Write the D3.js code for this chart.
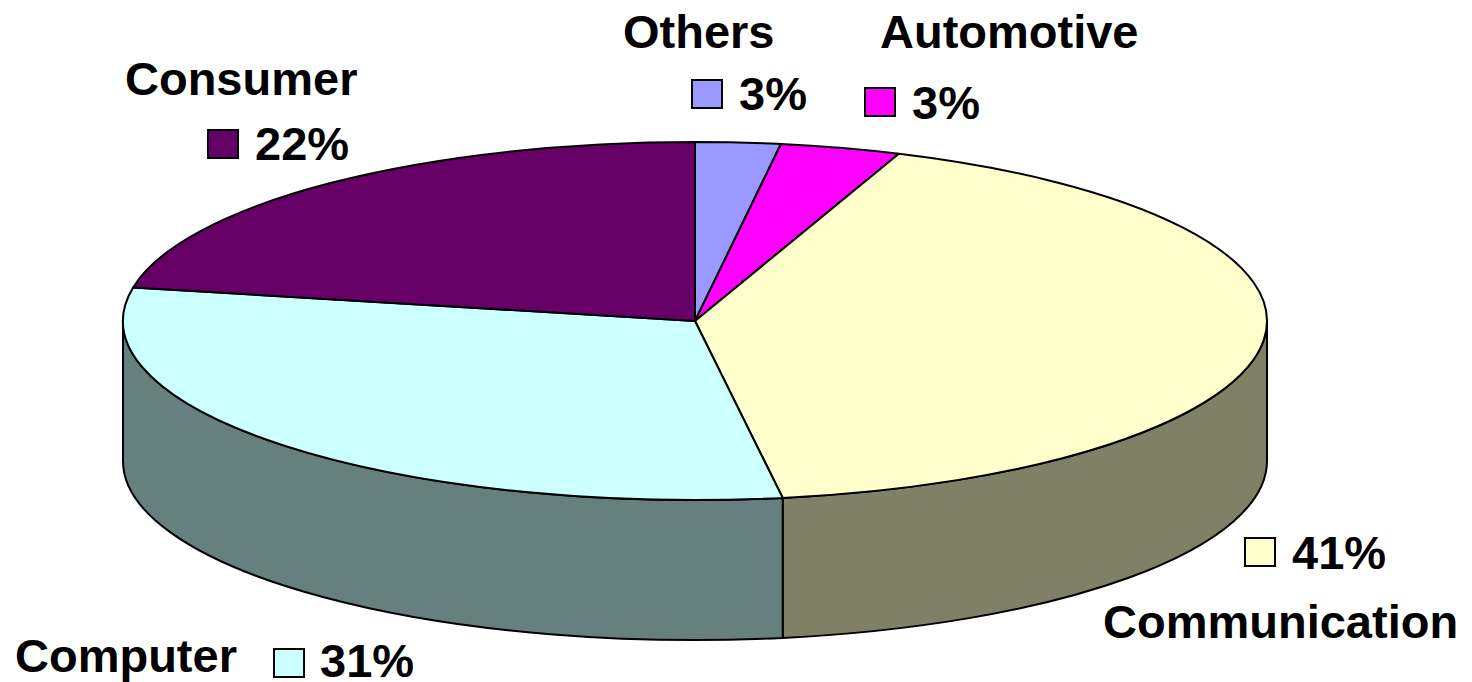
<!DOCTYPE html>
<html>
<head>
<meta charset="utf-8">
<script src="https://cdn.jsdelivr.net/npm/d3@7"></script>
<style>
  html, body { margin: 0; padding: 0; background: #ffffff; }
  svg { display: block; }
  text { font-family: "Liberation Sans", Arial, sans-serif; font-weight: bold; fill: #000; }
</style>
</head>
<body>
<svg id="chart" width="1472" height="682"></svg>
<script>
// ---- data ----
const categories = ["Others", "Automotive", "Communication", "Computer", "Consumer"];
const values = [2.4, 3.4, 41.75, 30.45, 22.0];
const percentLabels = ["3%", "3%", "41%", "31%", "22%"];
const topColors = ["#9999FF", "#FF00FF", "#FFFFCC", "#CCFFFF", "#660066"];
const sideColors = ["#4D4D80", "#800080", "#808066", "#668080", "#330033"];

// ---- layout ----
const W = 1472, H = 682;
const cx = 695, cy = 321, rx = 572, ry = 179, depth = 140;
const fontSize = 47;
// name label anchor (x, baseline) and legend-square anchor (x, top) per category
const nameLayout = [
  {x: 623, y: 48}, {x: 880, y: 48}, {x: 1103, y: 638}, {x: 15, y: 672}, {x: 125, y: 95}
];
const keyLayout = [
  {x: 692, y: 80, tx: 739, ty: 110},
  {x: 865, y: 88, tx: 912, ty: 119},
  {x: 1245, y: 538, tx: 1292, ty: 569},
  {x: 274, y: 649, tx: 320, ty: 677},
  {x: 208, y: 130, tx: 255, ty: 160}
];

const svg = d3.select("#chart");
const pie = d3.pie().sort(null).value(d => d.v).startAngle(0).endAngle(2 * Math.PI);
const data = categories.map((c, i) => ({c, v: values[i], i}));
const arcs = pie(data);

const px = a => cx + rx * Math.sin(a);
const py = (a, dy = 0) => cy - ry * Math.cos(a) + dy;

// ---- side walls (visible front half: angle in [PI/2, 3PI/2]) ----
const sideG = svg.append("g");
arcs.forEach(d => {
  const a0 = Math.max(d.startAngle, Math.PI / 2);
  const a1 = Math.min(d.endAngle, 3 * Math.PI / 2);
  if (a1 <= a0) return;
  const large = (a1 - a0) > Math.PI ? 1 : 0;
  const path =
    `M${px(a0)},${py(a0)}` +
    `A${rx},${ry} 0 ${large} 1 ${px(a1)},${py(a1)}` +
    `L${px(a1)},${py(a1, depth)}` +
    `A${rx},${ry} 0 ${large} 0 ${px(a0)},${py(a0, depth)}Z`;
  sideG.append("path")
    .attr("d", path)
    .attr("fill", sideColors[d.data.i])
    .attr("stroke", "#000")
    .attr("stroke-width", 2)
    .attr("stroke-linejoin", "round");
});

// ---- top faces ----
const topG = svg.append("g");
arcs.forEach(d => {
  const a0 = d.startAngle, a1 = d.endAngle;
  const large = (a1 - a0) > Math.PI ? 1 : 0;
  const path =
    `M${cx},${cy}L${px(a0)},${py(a0)}` +
    `A${rx},${ry} 0 ${large} 1 ${px(a1)},${py(a1)}Z`;
  topG.append("path")
    .attr("d", path)
    .attr("fill", topColors[d.data.i])
    .attr("stroke", "#000")
    .attr("stroke-width", 2)
    .attr("stroke-linejoin", "round");
});

// ---- labels ----
const labG = svg.append("g");
data.forEach((d, i) => {
  labG.append("text")
    .attr("x", nameLayout[i].x)
    .attr("y", nameLayout[i].y)
    .attr("font-size", fontSize)
    .text(d.c);
  labG.append("rect")
    .attr("x", keyLayout[i].x)
    .attr("y", keyLayout[i].y)
    .attr("width", 30)
    .attr("height", 28)
    .attr("fill", topColors[i])
    .attr("stroke", "#000")
    .attr("stroke-width", 2);
  labG.append("text")
    .attr("x", keyLayout[i].tx)
    .attr("y", keyLayout[i].ty)
    .attr("font-size", fontSize)
    .text(percentLabels[i]);
});
</script>
</body>
</html>
